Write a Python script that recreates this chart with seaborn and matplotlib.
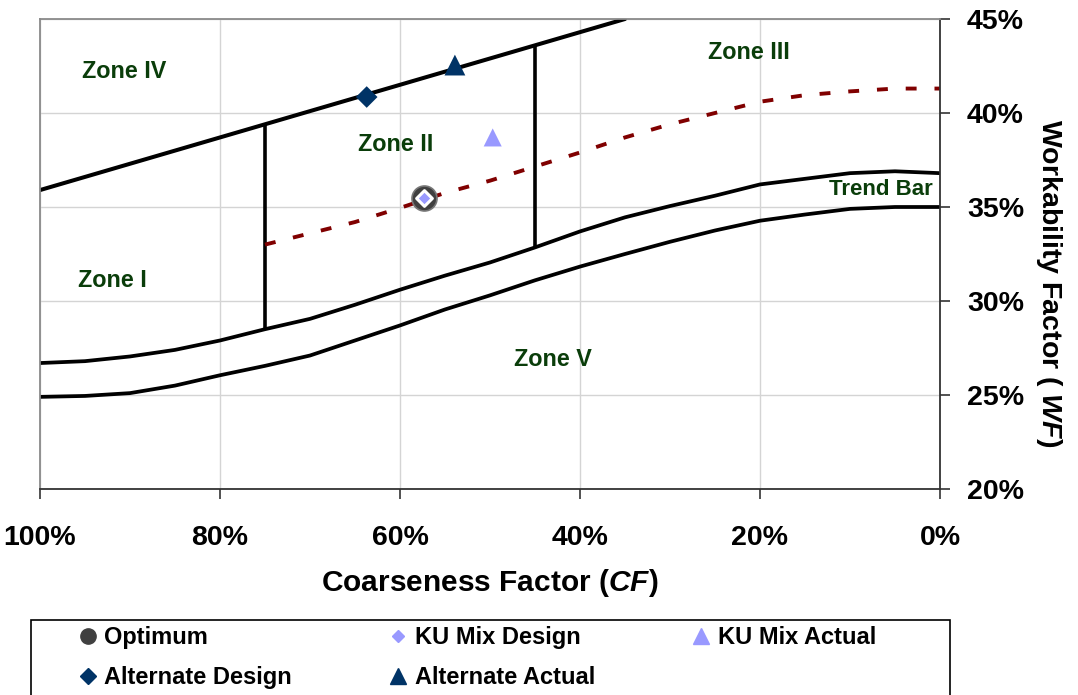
import numpy as np
import matplotlib
matplotlib.use("Agg")
import matplotlib.pyplot as plt
import matplotlib.patches as mpatches
from matplotlib.lines import Line2D
import seaborn as sns


# chart values (CF and WF in %)
boundary_cf = [100, 35]
boundary_wf = [35.9, 45.0]

divider_cf = [75, 45]
divider_top = [39.35, 43.55]
divider_bottom = [28.55, 32.85]

trend_cf = [100, 95, 90, 85, 80, 75, 70, 65, 60, 55, 50, 45, 40, 35, 30, 25, 20, 15, 10, 5, 0]
trend_upper = [26.7, 26.8, 27.05, 27.4, 27.9, 28.5, 29.05, 29.8, 30.6, 31.35, 32.05, 32.85, 33.7,
               34.45, 35.05, 35.6, 36.2, 36.5, 36.8, 36.9, 36.8]
trend_lower = [24.9, 24.95, 25.1, 25.5, 26.05, 26.55, 27.1, 27.9, 28.7, 29.55, 30.3, 31.1, 31.83,
               32.5, 33.15, 33.75, 34.27, 34.6, 34.9, 35.0, 35.0]

optimum_cf = [75, 70, 65, 60, 55, 50, 45, 40, 35, 30, 25, 20, 15, 10, 5, 0]
optimum_wf = [33.0, 33.6, 34.2, 34.95, 35.75, 36.4, 37.15, 37.9, 38.7, 39.4, 40.0, 40.6, 40.95, 41.15, 41.3, 41.3]

point_names = ["Optimum", "KU Mix Design", "KU Mix Actual", "Alternate Design", "Alternate Actual"]
point_cf = [57.3, 57.3, 49.7, 63.7, 53.9]
point_wf = [35.5, 35.5, 38.7, 40.85, 42.55]

zone_names = ["Zone IV", "Zone II", "Zone III", "Zone I", "Zone V", "Trend Bar"]
zone_cf = [90.7, 60.5, 21.2, 92.0, 43.0, 6.6]
zone_wf = [42.2, 38.35, 43.2, 31.1, 26.9, 35.95]

x_ticks = [100, 80, 60, 40, 20, 0]
y_ticks = [20, 25, 30, 35, 40, 45]

sns.set_style("whitegrid", {"grid.color": "#d4d4d4"})
plt.rcParams["font.family"] = ["Liberation Sans", "DejaVu Sans"]
plt.rcParams["font.weight"] = "bold"
plt.rcParams["text.color"] = "black"
plt.rcParams["mathtext.fontset"] = "custom"
plt.rcParams["mathtext.it"] = "Liberation Sans:italic:bold"
plt.rcParams["mathtext.rm"] = "Liberation Sans:bold"

fig = plt.figure(figsize=(10.78, 6.95), dpi=100)
ax = fig.add_axes([40 / 1078, 1 - 489 / 695, 900 / 1078, 470 / 695])

# lines
sns.lineplot(x=boundary_cf, y=boundary_wf, ax=ax, color="black", lw=2.9, sort=False, estimator=None)
for cf, top, bot in zip(divider_cf, divider_top, divider_bottom):
    sns.lineplot(x=[cf, cf], y=[bot, top], ax=ax, color="black", lw=2.6, sort=False, estimator=None)
sns.lineplot(x=trend_cf, y=trend_upper, ax=ax, color="black", lw=2.7, sort=False, estimator=None)
sns.lineplot(x=trend_cf, y=trend_lower, ax=ax, color="black", lw=2.7, sort=False, estimator=None)
sns.lineplot(x=optimum_cf, y=optimum_wf, ax=ax, color="#800000", lw=2.8, sort=False, estimator=None,
             linestyle=(0, (2.8, 4.6)))

# points
point_style = {
    "Optimum": dict(marker="o", s=18 ** 2, color="#404040", edgecolor="#777777", linewidth=1.2),
    "KU Mix Design": dict(marker="D", s=8 ** 2, color="#9999ff", edgecolor="white", linewidth=2.2),
    "KU Mix Actual": dict(marker="^", s=13 ** 2, color="#9999ff", edgecolor="none", linewidth=0),
    "Alternate Design": dict(marker="D", s=11 ** 2, color="#003366", edgecolor="none", linewidth=0),
    "Alternate Actual": dict(marker="^", s=15 ** 2, color="#003366", edgecolor="none", linewidth=0),
}
for name, cf, wf in zip(point_names, point_cf, point_wf):
    sns.scatterplot(x=[cf], y=[wf], ax=ax, zorder=5, legend=False, **point_style[name])

for name, cf, wf in zip(zone_names, zone_cf, zone_wf):
    ax.text(cf, wf, name, color="#0a3d0a", fontsize=16 if name == "Trend Bar" else 16.8,
            fontweight="bold", ha="center", va="center")

# axes
ax.set_xlim(100, 0)
ax.set_ylim(20, 45)
ax.set_xticks(x_ticks)
ax.set_xticklabels([f"{v}%" for v in x_ticks], fontsize=20.5, fontweight="bold", color="black")
ax.set_yticks(y_ticks)
ax.set_yticklabels([f"{v}%" for v in y_ticks], fontsize=20.5, fontweight="bold", color="black")
ax.yaxis.tick_right()
ax.tick_params(axis="x", bottom=True, length=7, width=1.2, color="#333333", pad=19)
ax.tick_params(axis="y", right=True, left=False, length=7.5, width=1.2, color="#333333", pad=12)
ax.grid(True, color="#d4d4d4", lw=1.0)
ax.set_axisbelow(True)
for side in ["top", "left"]:
    ax.spines[side].set_color("#8a8a8a")
    ax.spines[side].set_linewidth(1.3)
for side in ["bottom", "right"]:
    ax.spines[side].set_color("#333333")
    ax.spines[side].set_linewidth(1.3)

ax.set_xlabel("")
ax.set_ylabel("")
fig.text(490 / 1078, 1 - 583 / 695, r"Coarseness Factor ($\mathit{CF}$)", fontsize=21.5,
         fontweight="bold", color="black", ha="center", va="center")
fig.text(1049 / 1078, 1 - 283 / 695, r"Workability Factor ( $\mathit{WF}$)", rotation=-90,
         fontsize=20.5, fontweight="bold", color="black", ha="center", va="center")

# legend below the chart (column-major order so rows read like the reference)
legend_order = ["Optimum", "Alternate Design", "KU Mix Design", "Alternate Actual", "KU Mix Actual"]
legend_marks = {
    "Optimum": dict(marker="o", ms=11, color="#404040"),
    "KU Mix Design": dict(marker="D", ms=6, color="#9999ff"),
    "KU Mix Actual": dict(marker="^", ms=12, color="#9999ff"),
    "Alternate Design": dict(marker="D", ms=8, color="#003366"),
    "Alternate Actual": dict(marker="^", ms=12, color="#003366"),
}
handles = [Line2D([], [], ls="none", **legend_marks[n]) for n in legend_order]
leg = fig.legend(handles, legend_order, ncol=3, frameon=False, loc="upper left",
                 bbox_to_anchor=(76 / 1078, 1 - 626 / 695), borderaxespad=0, borderpad=0,
                 handlelength=1.0, handletextpad=0.2, columnspacing=4.0, labelspacing=0.72,
                 prop={"family": "Liberation Sans", "weight": "bold", "size": 17})
for t in leg.get_texts():
    t.set_color("black")
fig.add_artist(mpatches.Rectangle((31 / 1078, -0.05), 919 / 1078, 0.05 + 1 - 620 / 695,
                                  transform=fig.transFigure, fill=False, edgecolor="black", lw=1.2))

fig.savefig("out.png", dpi=100)
